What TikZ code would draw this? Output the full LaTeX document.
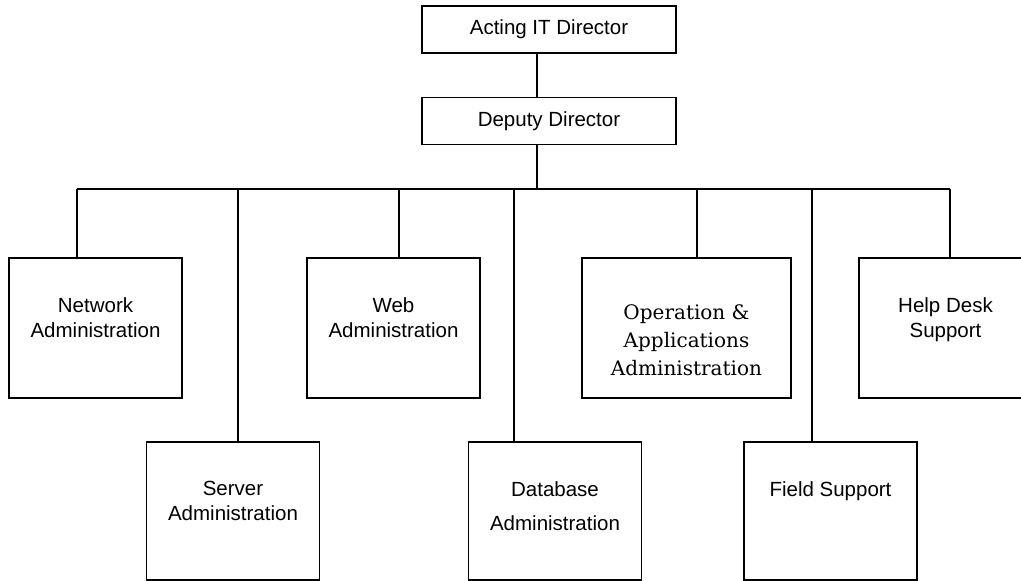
\documentclass[tikz,border=0pt]{standalone}
\usepackage{fontspec}
\setmainfont{Liberation Sans}
\newfontfamily\opfont{DejaVu Serif}

\tikzset{
  post/.style={draw, line width=1.2pt, minimum width=254pt, minimum height=47pt,
    inner sep=0pt, font=\fontsize{20.5}{25}\selectfont},
  unit/.style={draw, line width=1.2pt, minimum width=173pt, minimum height=140pt, inner sep=0pt},
  unitlbl/.style={anchor=north, yshift=-40pt, inner sep=0pt, align=center,
    font=\fontsize{20.5}{25}\selectfont},
  link/.style={line width=1.2pt}
}

\begin{document}
\begin{tikzpicture}[x=1pt,y=-1pt]
  \useasboundingbox (0,0) rectangle (1021,581);

  % top of the chart
  \node[post] (act) at (549,29.5) {Acting IT Director};
  \node[post] (dep) at (549,121) {Deputy Director};

  % units
  \node[unit, label={[unitlbl]north:{Network\\Administration}}] (net) at (95.5,328) {};
  \node[unit, minimum height=138pt, label={[unitlbl]north:{Server\\Administration}}] (srv) at (233,511) {};
  \node[unit, label={[unitlbl]north:{Web\\Administration}}] (web) at (393.5,328) {};
  \node[unit, minimum height=138pt, label={[unitlbl]north:{Database\\[9pt]Administration}}] (db) at (555,511) {};
  \node[unit, minimum width=209pt,
    label={[unitlbl, yshift=-7pt, font=\opfont\fontsize{20}{28}\selectfont]north:{Operation \&\\Applications\\Administration}}] (op) at (686.5,328) {};
  \node[unit, minimum height=138pt, label={[unitlbl]north:{Field Support}}] (fld) at (830.5,511) {};
  \node[unit, label={[unitlbl]north:{Help Desk\\Support}}] (help) at (945.5,328) {};

  % lines
  \coordinate (trunk) at (537,189);
  \foreach \x [count=\i] in {77,238,399,514,697,812,950}
    \coordinate (b\i) at (\x,189);

  \draw[link] (trunk |- act.south) -- (trunk |- dep.north);
  \draw[link] (trunk |- dep.south) -- (trunk);
  \draw[link] (b1) -- (b7);
  \foreach \b/\n in {b1/net,b2/srv,b3/web,b4/db,b5/op,b6/fld,b7/help}
    \draw[link] (\b) -- (\b |- \n.north);
\end{tikzpicture}
\end{document}
